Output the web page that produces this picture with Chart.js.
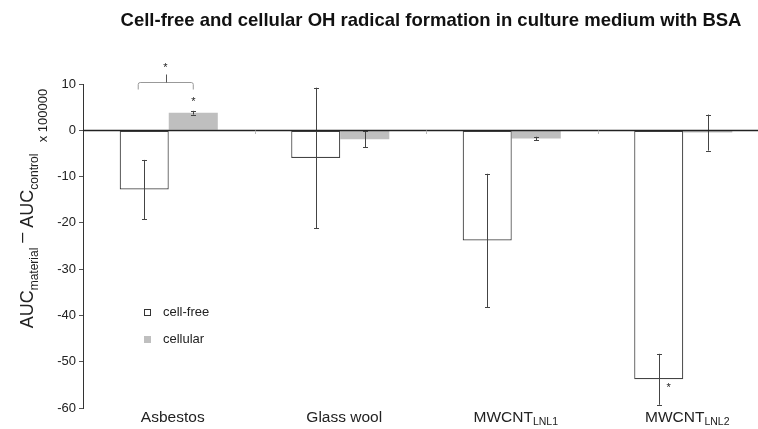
<!DOCTYPE html>
<html><head><meta charset="utf-8">
<script src="https://cdn.jsdelivr.net/npm/chart.js@4.4.1/dist/chart.umd.min.js"></script>
<style>
html,body{margin:0;padding:0;background:#fff;overflow:hidden;width:758px;height:429px}
#wrap{position:absolute;left:0;top:0;width:772px;height:429px}
</style>
</head><body><div id="wrap"><canvas id="c" width="772" height="429"></canvas></div>
<script>
const chartTitle = 'Cell-free and cellular OH radical formation in culture medium with BSA';
const categories = ['Asbestos', 'Glass wool', 'MWCNT_LNL1', 'MWCNT_LNL2'];
const seriesNames = ['cell-free', 'cellular'];
const cellFree = [-12.8, -6.0, -23.8, -53.8];
const cellFreeErr = [6.4, 15.2, 14.4, 5.5];
const cellular = [3.8, -1.95, -1.8, -0.5];
const cellularErr = [0.4, 1.75, 0.4, 3.9];
const yTicks = [10, 0, -10, -20, -30, -40, -50, -60];
const yTitleParts = [['AUC', 'material'], ['AUC', 'control']];
const yUnit = 'x 100000';
// significance stars: [category index, series index]
const starMarks = [[0, 1], [3, 0]];
// bracket joining both series of these categories, with a star above
const bracketCats = [0];

const FONT = '"Liberation Sans", Arial, Helvetica, sans-serif';
const errs = [cellFreeErr, cellularErr];

function drawSub(ctx, text, x, y, bigPx, smallPx, align) {
  const parts = text.split('_');
  ctx.font = bigPx + 'px ' + FONT;
  const w1 = ctx.measureText(parts[0]).width;
  let w2 = 0;
  if (parts[1]) { ctx.font = smallPx + 'px ' + FONT; w2 = ctx.measureText(parts[1]).width; }
  let sx = align === 'center' ? x - (w1 + w2) / 2 : x;
  ctx.textAlign = 'left';
  ctx.font = bigPx + 'px ' + FONT;
  ctx.fillText(parts[0], sx, y);
  if (parts[1]) { ctx.font = smallPx + 'px ' + FONT; ctx.fillText(parts[1], sx + w1, y + 4); }
}

const deco = {
  id: 'deco',
  afterDatasetsDraw(chart) {
    const ctx = chart.ctx, ca = chart.chartArea, ys = chart.scales.y, xs = chart.scales.x;
    ctx.save();
    // error bars
    chart.data.datasets.forEach((ds, i) => {
      const meta = chart.getDatasetMeta(i);
      meta.data.forEach((bar, j) => {
        const v = ds.data[j], e = errs[i][j];
        const yt = ys.getPixelForValue(v + e), yb = ys.getPixelForValue(v - e);
        const x = Math.round(bar.x) + 0.5;
        ctx.strokeStyle = '#444'; ctx.lineWidth = 1;
        ctx.beginPath();
        ctx.moveTo(x, yt); ctx.lineTo(x, yb);
        ctx.moveTo(x - 2.5, Math.round(yt) + 0.5); ctx.lineTo(x + 2.5, Math.round(yt) + 0.5);
        ctx.moveTo(x - 2.5, Math.round(yb) + 0.5); ctx.lineTo(x + 2.5, Math.round(yb) + 0.5);
        ctx.stroke();
      });
    });
    // zero line
    const y0 = Math.round(ys.getPixelForValue(0)) + 0.5;
    ctx.strokeStyle = '#222'; ctx.lineWidth = 1.3;
    ctx.beginPath(); ctx.moveTo(ca.left, y0); ctx.lineTo(ca.right, y0); ctx.stroke();
    // category boundary ticks
    ctx.strokeStyle = '#bbb'; ctx.lineWidth = 1;
    for (let i = 1; i < categories.length; i++) {
      const bx = Math.round((xs.getPixelForValue(i - 1) + xs.getPixelForValue(i)) / 2) + 0.5;
      ctx.beginPath(); ctx.moveTo(bx, y0); ctx.lineTo(bx, y0 + 3.5); ctx.stroke();
    }
    // stars
    ctx.fillStyle = '#222'; ctx.font = '11px ' + FONT; ctx.textAlign = 'center'; ctx.textBaseline = 'middle';
    const starPos = {};
    starMarks.forEach(([c, s]) => {
      const bar = chart.getDatasetMeta(s).data[c];
      const v = chart.data.datasets[s].data[c], e = errs[s][c];
      let x, y;
      if (v >= 0) { x = bar.x; y = ys.getPixelForValue(v + e) - 12; }
      else { x = bar.x + 10; y = ys.getPixelForValue(v) + 6; }
      starPos[c + '_' + s] = y;
      ctx.fillText('*', x, y + 3);
    });
    // brackets
    bracketCats.forEach(c => {
      const l = chart.getDatasetMeta(0).data[c].x - 6;
      const r = chart.getDatasetMeta(1).data[c].x;
      const sy = starPos[c + '_1'] !== undefined ? starPos[c + '_1'] : ys.getPixelForValue(chart.data.datasets[1].data[c]) - 20;
      const by = Math.round(sy - 17) + 0.5;
      ctx.strokeStyle = '#999'; ctx.lineWidth = 1;
      ctx.beginPath();
      ctx.moveTo(l, by + 7); ctx.lineTo(l, by + 2); ctx.quadraticCurveTo(l, by, l + 2, by);
      ctx.lineTo(r - 2, by); ctx.quadraticCurveTo(r, by, r, by + 2); ctx.lineTo(r, by + 7);
      ctx.stroke();
      const mx = Math.round((l + r) / 2) + 0.5;
      ctx.strokeStyle = '#555';
      ctx.beginPath(); ctx.moveTo(mx, by); ctx.lineTo(mx, by - 8); ctx.stroke();
      ctx.fillText('*', mx - 1, by - 18 + 3);
    });
    // legend
    const lx = ca.left + 61, ly = ca.top + 225;
    ctx.lineWidth = 1;
    ctx.fillStyle = '#fff'; ctx.strokeStyle = '#333';
    ctx.fillRect(lx, ly, 7, 7); ctx.strokeRect(lx + 0.5, ly + 0.5, 6, 6);
    ctx.fillStyle = '#bfbfbf';
    ctx.fillRect(lx, ly + 27, 7, 7);
    ctx.fillStyle = '#222'; ctx.font = '13px ' + FONT; ctx.textAlign = 'left'; ctx.textBaseline = 'middle';
    ctx.fillText(seriesNames[0], lx + 19, ly + 3.5);
    ctx.fillText(seriesNames[1], lx + 19, ly + 30.5);
    ctx.restore();
  },
  afterDraw(chart) {
    const ctx = chart.ctx, ca = chart.chartArea, xs = chart.scales.x;
    ctx.save();
    // title
    ctx.fillStyle = '#111'; ctx.font = 'bold 18.5px ' + FONT; ctx.textAlign = 'center'; ctx.textBaseline = 'middle';
    ctx.fillText(chartTitle, 431, 21);
    // x labels
    ctx.fillStyle = '#222'; ctx.textBaseline = 'middle';
    categories.forEach((c, i) => {
      drawSub(ctx, c, xs.getPixelForValue(i) + 4, ca.bottom + 10, 15.5, 10.5, 'center');
    });
    // y title
    ctx.translate(33, 241); ctx.rotate(-Math.PI / 2);
    ctx.textBaseline = 'alphabetic'; ctx.textAlign = 'left';
    const segs = [
      {t: yTitleParts[0][0], f: 18, dy: 0}, {t: yTitleParts[0][1], f: 12, dy: 4.5},
      {t: ' \u2013 ', f: 18, dy: -6},
      {t: yTitleParts[1][0], f: 18, dy: 0}, {t: yTitleParts[1][1], f: 12, dy: 4.5}
    ];
    let tot = 0;
    segs.forEach(s => { ctx.font = s.f + 'px ' + FONT; s.w = ctx.measureText(s.t).width; tot += s.w; });
    let px = -tot / 2;
    segs.forEach(s => { ctx.font = s.f + 'px ' + FONT; ctx.fillText(s.t, px, s.dy); px += s.w; });
    ctx.restore();
    ctx.save();
    ctx.translate(47, 115.5); ctx.rotate(-Math.PI / 2);
    ctx.fillStyle = '#222'; ctx.font = '13px ' + FONT; ctx.textAlign = 'center'; ctx.textBaseline = 'alphabetic';
    ctx.fillText(yUnit, 0, 0);
    ctx.restore();
  }
};

new Chart(document.getElementById('c'), {
  type: 'bar',
  data: {
    labels: categories,
    datasets: [
      {label: seriesNames[0], data: cellFree, backgroundColor: '#ffffff', borderColor: '#444', borderWidth: 1.2, borderSkipped: false,
       categoryPercentage: 0.572, barPercentage: 1.0},
      {label: seriesNames[1], data: cellular, backgroundColor: '#bfbfbf', borderColor: '#c4c4c4', borderWidth: 0, borderSkipped: false,
       categoryPercentage: 0.572, barPercentage: 1.0}
    ]
  },
  options: {
    responsive: false,
    animation: false,
    layout: {padding: {left: 0, top: 84, right: 3, bottom: 21}},
    plugins: {legend: {display: false}, title: {display: false}, tooltip: {enabled: false}},
    scales: {
      x: {display: false, offset: true},
      y: {
        min: -60, max: 10,
        afterFit(s) { s.width = 83; },
        afterBuildTicks(s) { s.ticks = yTicks.map(v => ({value: v})); },
        ticks: {stepSize: 10, padding: 3, color: '#222', font: {family: FONT, size: 13}},
        grid: {color: 'rgba(0,0,0,0)', drawTicks: true, tickLength: 4, tickColor: '#555'},
        border: {display: true, color: '#333', width: 1}
      }
    }
  },
  plugins: [deco]
});
</script>
</body></html>
